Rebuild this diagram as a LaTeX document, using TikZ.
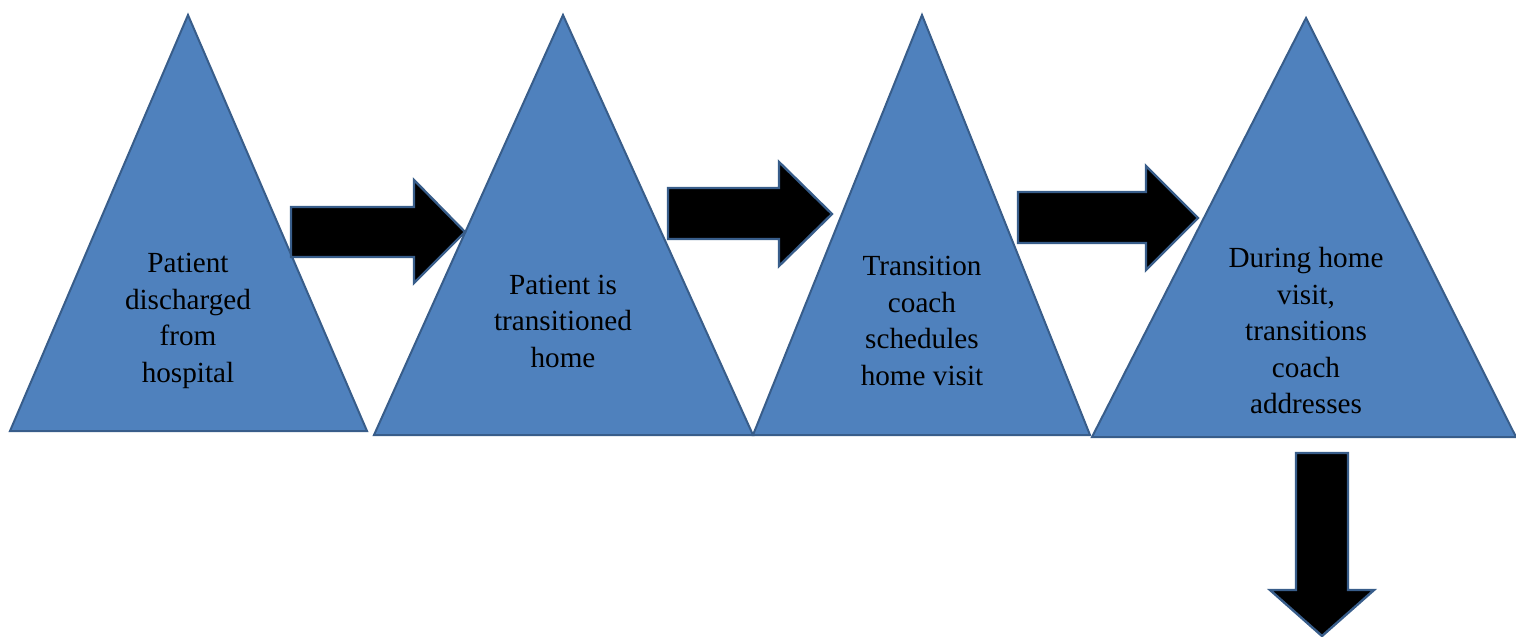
\documentclass[tikz,border=0pt]{standalone}
\usepackage{fontspec}
\setmainfont{Liberation Serif}
\newfontfamily\timesfont{Liberation Serif}
\definecolor{triblue}{HTML}{4F81BD}
\definecolor{triedge}{HTML}{385D8A}
\begin{document}
\begin{tikzpicture}[x=0.5pt,y=-0.5pt,
  tri/.style={fill=triblue,draw=triedge,line width=1pt,line join=miter},
  blockarrow/.style={fill=black,draw=triedge,line width=1.2pt,line join=miter},
  label/.style={align=center,inner sep=0pt,font=\timesfont\fontsize{14.6}{18.25}\selectfont}]
\useasboundingbox (0,0) rectangle (1516,637);
% triangles
\draw[tri] (188,15) -- (367,431) -- (10,431) -- cycle;
\draw[tri] (563,15) -- (753,435) -- (374,435) -- cycle;
\draw[tri] (922,15) -- (1090,435) -- (753,435) -- cycle;
\draw[tri] (1306,18) -- (1516,437) -- (1092,437) -- cycle;
% labels
\node[label] (t1) at (188,321) {Patient\\discharged\\from\\hospital};
\node[label] (t2) at (563,321) {Patient is\\transitioned\\home};
\node[label] (t3) at (922,321) {Transition\\coach\\schedules\\home visit};
\node[label] (t4) at (1306,331) {During home\\visit,\\transitions\\coach\\addresses};
% block arrows
\draw[blockarrow] (291,207) -- (414,207) -- (414,180) -- (465,232) -- (414,283) -- (414,257) -- (291,257) -- cycle;
\draw[blockarrow] (668,188) -- (779,188) -- (779,162) -- (832,214) -- (779,266) -- (779,239) -- (668,239) -- cycle;
\draw[blockarrow] (1018,192) -- (1146,192) -- (1146,166) -- (1198,218) -- (1146,270) -- (1146,243) -- (1018,243) -- cycle;
\draw[blockarrow] (1296,453) -- (1348,453) -- (1348,590) -- (1374,590) -- (1322,636) -- (1270,590) -- (1296,590) -- cycle;
\end{tikzpicture}
\end{document}
